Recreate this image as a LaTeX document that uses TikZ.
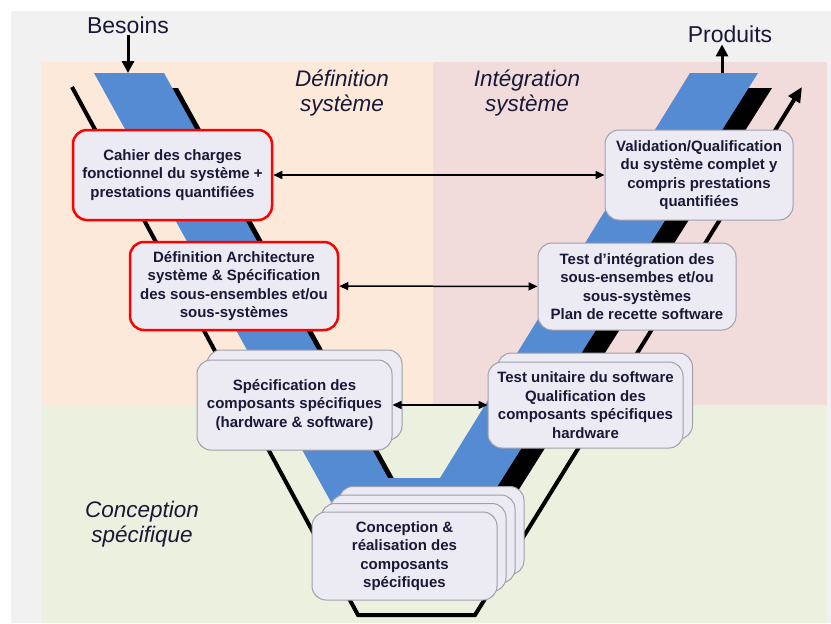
\documentclass[tikz,border=0pt]{standalone}
\usepackage{fontspec}
\setmainfont{Liberation Sans}
\usetikzlibrary{arrows.meta}

\definecolor{fondgris}{RGB}{241,241,241}
\definecolor{fondpeche}{RGB}{253,233,218}
\definecolor{fondrose}{RGB}{242,220,219}
\definecolor{fondvert}{RGB}{235,241,222}
\definecolor{bandebleue}{RGB}{84,139,210}
\definecolor{boitefond}{RGB}{236,234,242}
\definecolor{boitebord}{RGB}{160,160,170}
\definecolor{encre}{RGB}{25,25,55}

\tikzset{
    etape/.style={draw=boitebord, line width=1pt, fill=boitefond, rounded corners=14pt,
        align=center, inner sep=2pt, text=encre,
        font=\fontsize{15}{18.5}\selectfont\bfseries},
    cle/.style={etape, draw=red, line width=2.5pt},
    phase/.style={align=center, text=encre, font=\fontsize{22.5}{25}\selectfont\itshape},
    titre/.style={text=encre, inner sep=2pt, font=\fontsize{23}{25}\selectfont},
    flux/.style={line width=3pt, -{Triangle[length=12pt,width=12pt]}},
    lien/.style={line width=1.5pt, {Triangle[length=9pt,width=8pt]}-{Triangle[length=9pt,width=8pt]}},
}

\begin{document}
\begin{tikzpicture}[x=1pt, y=-1pt]
    \useasboundingbox (0,0) rectangle (831,624);
    \fill[fondgris] (11,11) rectangle (831,623);
    \fill[fondpeche] (41,62) rectangle (433,405);
    \fill[fondrose] (433,62) rectangle (827,405);
    \fill[fondvert] (41,405) rectangle (827,623);

    % le V et son ombre
    \fill[black, shift={(14,15)}] (94,73) -- (164,73) -- (388,478) -- (440,478) -- (690,73) -- (758,73) -- (451,560) -- (363,560) -- cycle;
    \fill[bandebleue] (94,73) -- (164,73) -- (388,478) -- (440,478) -- (690,73) -- (758,73) -- (451,560) -- (363,560) -- cycle;
    \draw[line width=4pt, -{Triangle[length=15pt,width=13pt]}] (72,87) -- (358,615) -- (475,615) -- (802,87);

    \coordinate (entree) at (128,73);
    \coordinate (sortie) at (722,73);

    \node[titre, anchor=base] (besoins) at (128,33) {Besoins};
    \node[titre, anchor=base] (produits) at (730,42) {Produits};
    \node[phase] (defsys) at (342,93) {Définition\\système};
    \node[phase] (intsys) at (527,93) {Intégration\\système};
    \node[phase] (concspec) at (142,524.5) {Conception\\spécifique};

    \node[cle, minimum width=199pt, minimum height=90pt] (cahier) at (172.5,175)
        {Cahier des charges\\fonctionnel du système +\\prestations quantifiées};
    \node[cle, minimum width=208pt, minimum height=88pt] (archi) at (234,286)
        {Définition Architecture\\système \& Spécification\\des sous-ensembles et/ou\\sous-systèmes};
    \node[etape, minimum width=195pt, minimum height=90pt] (spec-b) at (304.5,395) {};
    \node[etape, minimum width=195pt, minimum height=90pt] (spec) at (294.5,405)
        {Spécification des\\composants spécifiques\\(hardware \& software)};

    \node[etape, minimum width=188pt, minimum height=90pt] (valid) at (699,175)
        {Validation/Qualification\\du système complet y\\compris prestations\\quantifiées};
    \node[etape, minimum width=198pt, minimum height=87pt] (integ) at (637,286.5)
        {Test d'intégration des\\sous-ensembes et/ou\\sous-systèmes\\Plan de recette software};
    \node[etape, minimum width=195pt, minimum height=86pt] (unit-b) at (595,396) {};
    \node[etape, minimum width=195pt, minimum height=86pt] (unit) at (585.5,405)
        {Test unitaire du software\\Qualification des\\composants spécifiques\\hardware};

    \foreach \k in {3,2,1}
        \node[etape, minimum width=185pt, minimum height=88pt] (concep-\k) at (404.5+9*\k,556-8.5*\k) {};
    \node[etape, minimum width=185pt, minimum height=88pt] (concep) at (404.5,556)
        {Conception \&\\réalisation des\\composants\\spécifiques};

    \draw[flux] (besoins) -- (entree);
    \draw[flux] (sortie) -- (sortie |- produits.south);
    \draw[lien] (cahier) -- (valid);
    \draw[lien] (archi) -- (integ);
    \draw[lien] (spec) -- (unit);
\end{tikzpicture}
\end{document}
